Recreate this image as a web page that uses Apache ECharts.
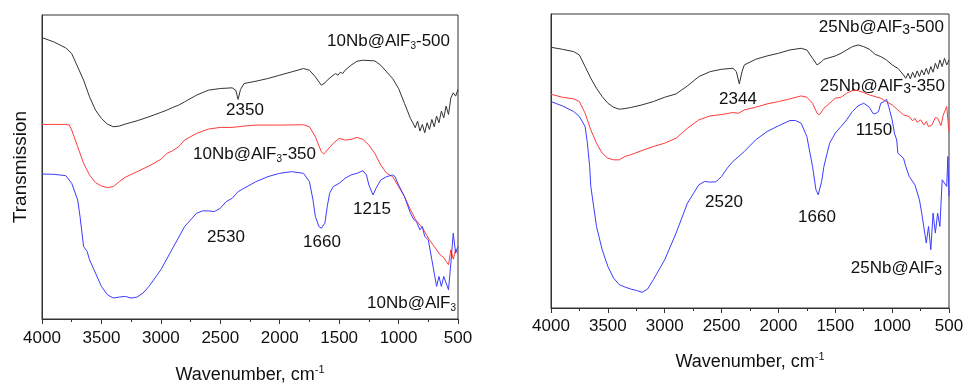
<!DOCTYPE html>
<html><head><meta charset="utf-8">
<script src="https://cdn.jsdelivr.net/npm/echarts@6/dist/echarts.min.js"></script>
<style>html,body{margin:0;padding:0;background:#fff}#c{width:965px;height:383px}</style>
</head><body><div id="c"></div>
<script>
// x ticks (wavenumber, cm-1)
const xTicks = [4000, 3500, 3000, 2500, 2000, 1500, 1000, 500];

// ---- Left panel (10Nb@AlF3), transmission in arbitrary units ----
const L500_wn = [4000,3900,3800,3750,3700,3650,3600,3550,3500,3450,3400,3350,3300,3200,3100,3000,2950,2900,2850,2800,2700,2600,2500,2400,2370,2350,2330,2300,2200,2100,2000,1900,1800,1750,1700,1650,1620,1600,1560,1530,1510,1490,1470,1450,1400,1350,1300,1200,1150,1100,1050,1000,950,900,880,860,840,820,800,780,760,740,720,700,680,660,640,620,600,580,560,540,520,500];
const L500_v  = [846,833,815,798,758,718,668,628,603,586,578,580,586,596,608,621,628,636,643,653,673,688,693,695,688,660,690,708,715,723,733,743,753,748,728,703,710,718,730,738,733,742,738,748,763,775,778,776,763,743,723,693,648,603,590,575,595,565,585,560,590,570,600,578,610,590,625,605,640,615,665,680,670,690];

const L350_wn = [4000,3900,3800,3770,3750,3700,3650,3600,3550,3500,3450,3400,3350,3300,3200,3100,3000,2950,2900,2850,2800,2700,2600,2500,2400,2350,2300,2200,2000,1800,1750,1700,1650,1630,1600,1550,1500,1450,1400,1350,1300,1250,1200,1150,1100,1050,1000,950,900,880,860,840,820,800,780,760,750,700,650,620,600,580,560,540,530,520,500];
const L350_v  = [585,585,585,583,568,518,468,433,410,400,395,398,413,426,443,460,480,498,506,518,538,558,571,576,576,578,580,583,583,584,578,548,503,496,508,528,543,538,540,546,540,523,498,463,438,428,398,368,328,315,300,292,282,275,262,250,243,218,193,185,173,163,208,180,193,210,198];

const L0_wn = [4000,3900,3800,3750,3700,3680,3650,3620,3600,3550,3500,3450,3400,3350,3300,3250,3200,3150,3100,3000,2900,2800,2700,2650,2600,2550,2500,2450,2400,2350,2300,2200,2100,2000,1900,1800,1750,1720,1700,1670,1650,1620,1600,1580,1550,1500,1450,1400,1350,1300,1270,1250,1215,1190,1150,1100,1050,1030,1000,950,900,870,850,820,800,780,750,720,700,680,660,640,620,600,580,560,540,520,500];
const L0_v  = [436,435,431,408,358,308,218,203,178,138,98,73,63,66,68,63,66,78,98,148,213,278,318,325,325,323,333,353,363,383,393,413,428,438,443,438,413,358,308,278,273,288,338,378,398,408,423,433,438,446,433,403,373,393,418,428,433,428,403,368,318,298,293,268,278,248,238,178,138,98,128,98,128,108,88,168,258,198,218];

// ---- Right panel (25Nb@AlF3), transmission in arbitrary units ----
const R500_wn = [4000,3900,3800,3750,3700,3650,3600,3550,3500,3450,3400,3350,3300,3200,3100,3000,2900,2850,2800,2700,2600,2500,2400,2370,2344,2320,2300,2200,2100,2000,1900,1800,1750,1700,1660,1620,1600,1500,1450,1400,1350,1300,1250,1200,1150,1100,1050,1000,950,900,880,860,840,820,800,780,760,740,720,700,680,660,640,620,600,580,560,540,520,500];
const R500_v  = [783,777,770,760,725,690,660,635,615,603,597,599,602,610,620,633,643,655,667,695,710,717,720,710,673,710,730,747,757,765,775,780,775,750,730,740,747,757,765,775,785,790,785,777,762,755,745,730,720,700,690,705,688,708,692,712,695,715,700,720,702,725,708,735,718,745,725,750,730,745];

const R350_wn = [4000,3900,3800,3750,3700,3650,3600,3550,3500,3450,3400,3350,3300,3200,3100,3000,2900,2850,2800,2700,2600,2500,2400,2350,2300,2200,2100,2000,1900,1800,1750,1700,1660,1640,1600,1550,1500,1450,1400,1350,1300,1250,1200,1150,1100,1050,1000,950,900,850,820,800,780,750,720,700,680,650,620,600,570,550,520,500];
const R350_v  = [642,633,628,620,585,535,495,465,450,445,445,455,460,473,485,495,510,525,540,565,577,581,587,585,595,603,613,620,628,637,633,615,585,580,600,615,630,633,645,653,653,647,640,635,630,620,610,595,580,575,562,570,558,565,550,560,545,550,572,570,548,580,605,530];

const R0_wn = [4000,3900,3800,3750,3700,3680,3660,3650,3600,3550,3500,3450,3400,3350,3300,3250,3200,3150,3100,3000,2900,2800,2700,2650,2600,2550,2500,2450,2400,2300,2200,2100,2000,1900,1850,1800,1750,1700,1670,1650,1620,1600,1550,1500,1450,1400,1350,1300,1250,1200,1170,1150,1120,1100,1070,1050,1030,1000,980,960,950,900,880,850,800,760,740,700,680,660,640,620,600,580,560,520,510,500];
const R0_v  = [620,607,590,575,545,495,425,365,245,175,125,90,70,63,57,53,47,57,85,145,225,315,370,380,378,379,395,420,440,470,505,530,547,563,563,555,515,425,355,340,380,425,495,525,545,565,590,607,615,603,585,583,590,615,620,627,605,565,525,505,465,450,425,395,370,325,285,195,245,175,285,225,285,245,385,365,455,335];

const names = ['10Nb@AlF3-500','10Nb@AlF3-350','10Nb@AlF3','25Nb@AlF3-500','25Nb@AlF3-350','25Nb@AlF3'];
const colors = ['#333333', '#ff3c3c', '#3c3cff'];

const zip = (a, b) => a.map((x, i) => [x, b[i]]);
const FONT = '"Liberation Sans", Arial, sans-serif';

function xAxisFor(gi) {
  return {
    type: 'value', gridIndex: gi, min: 500, max: 4000, interval: 500, inverse: true,
    axisLine: { show: true, onZero: false, lineStyle: { color: '#333', width: 1 } },
    axisTick: { show: true, inside: false, length: 5, lineStyle: { color: '#333' } },
    minorTick: { show: true, splitNumber: 2, length: 3, lineStyle: { color: '#333' } },
    splitLine: { show: false },
    axisLabel: { color: '#111', fontSize: 17, fontFamily: FONT, margin: gi === 0 ? 11 : 10,
      customValues: xTicks, formatter: (v) => String(v) },
    name: '{a|Wavenumber, cm}{s|-1}',
    nameLocation: 'middle', nameGap: gi === 0 ? 45 : 43,
    nameTextStyle: { rich: {
      a: { fontSize: 18, fontFamily: FONT, color: '#111', lineHeight: 22 },
      s: { fontSize: 11, fontFamily: FONT, color: '#111', lineHeight: 10, verticalAlign: 'top' }
    } }
  };
}
function yAxisFor(gi, max, withName) {
  return {
    type: 'value', gridIndex: gi, min: 0, max: max,
    axisLine: { show: true, lineStyle: { color: '#333' } }, axisTick: { show: false },
    axisLabel: { show: false }, splitLine: { show: false },
    name: withName ? 'Transmission' : '', nameLocation: 'middle', nameGap: 12, nameRotate: 90,
    nameTextStyle: { fontSize: 19, fontFamily: FONT, color: '#111' }
  };
}
function line(gi, name, wn, v, color) {
  return { type: 'line', name, xAxisIndex: gi, yAxisIndex: gi, data: zip(wn, v),
    showSymbol: false, symbol: 'none', lineStyle: { color, width: 1 }, itemStyle: { color },
    animation: false, silent: true };
}

const subL = { fontSize: 10, fontFamily: FONT, fill: '#111', lineHeight: 6, verticalAlign: 'bottom' };
const subR = { fontSize: 14, fontFamily: FONT, fill: '#111', lineHeight: 12, verticalAlign: 'bottom' };
function label(x, y, text, align, sub) {
  return { type: 'text', x, y, style: {
    text, fontSize: 17, fontFamily: FONT, fill: '#111', align: align || 'center', verticalAlign: 'middle',
    lineHeight: 20,
    rich: { n: { fontSize: 17, fontFamily: FONT, fill: '#111', lineHeight: 20 }, s: sub || subL }
  }, silent: true };
}

const chart = echarts.init(document.getElementById('c'), null, { renderer: 'canvas' });
chart.setOption({
  backgroundColor: '#fff',
  animation: false,
  grid: [
    { left: 42, top: 15, width: 416, height: 304, show: true, borderColor: '#333', borderWidth: 1,
      backgroundColor: 'transparent', containLabel: false, outerBoundsMode: 'none' },
    { left: 551, top: 14, width: 398, height: 294, show: true, borderColor: '#333', borderWidth: 1,
      backgroundColor: 'transparent', containLabel: false, outerBoundsMode: 'none' }
  ],
  xAxis: [xAxisFor(0), xAxisFor(1)],
  yAxis: [yAxisFor(0, 914, true), yAxisFor(1, 883, false)],
  series: [
    line(0, names[0], L500_wn, L500_v, colors[0]),
    line(0, names[1], L350_wn, L350_v, colors[1]),
    line(0, names[2], L0_wn, L0_v, colors[2]),
    line(1, names[3], R500_wn, R500_v, colors[0]),
    line(1, names[4], R350_wn, R350_v, colors[1]),
    line(1, names[5], R0_wn, R0_v, colors[2])
  ],
  graphic: [
    label(450, 41, '{n|10Nb@AlF}{s|3}{n|-500}', 'right'),
    label(245, 110, '2350'),
    label(316, 154, '{n|10Nb@AlF}{s|3}{n|-350}', 'right'),
    label(226, 237, '2530'),
    label(322, 242, '1660'),
    label(372, 209, '1215'),
    label(456, 303, '{n|10Nb@AlF}{s|3}', 'right'),
    label(944, 27, '{n|25Nb@AlF}{s|3}{n|-500}', 'right', subR),
    label(738, 99, '2344'),
    label(945, 86, '{n|25Nb@AlF}{s|3}{n|-350}', 'right', subR),
    label(874, 130, '1150'),
    label(724, 202, '2520'),
    label(817, 217, '1660'),
    label(942, 268, '{n|25Nb@AlF}{s|3}', 'right', subR)
  ]
});
</script></body></html>
